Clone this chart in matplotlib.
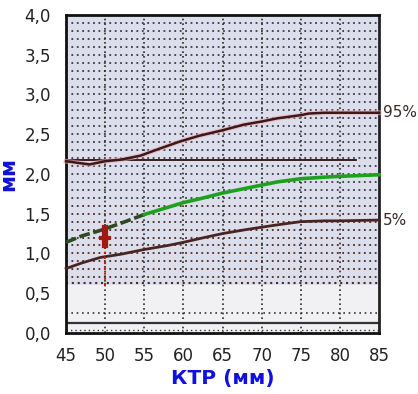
import matplotlib.pyplot as plt
import numpy as np

plt.rcParams['font.family'] = ['DejaVu Sans']

x_ticks = [45, 50, 55, 60, 65, 70, 75, 80, 85]
y_ticks = [0.0, 0.5, 1.0, 1.5, 2.0, 2.5, 3.0, 3.5, 4.0]
y_tick_labels = ["0,0", "0,5", "1,0", "1,5", "2,0", "2,5", "3,0", "3,5", "4,0"]

p95_x = [45, 48, 50, 52, 54.5, 57, 59.6, 62, 65, 67.7, 70, 72, 75, 76, 78, 80, 85]
p95_y = [2.16, 2.12, 2.16, 2.18, 2.23, 2.32, 2.41, 2.48, 2.55, 2.62, 2.66, 2.70, 2.74, 2.76, 2.77, 2.77, 2.77]

median_x = [45, 47, 49.4, 52, 55, 58, 60, 62.2, 65, 68, 70, 72, 75, 78, 80, 85]
median_y = [1.14, 1.22, 1.29, 1.38, 1.49, 1.58, 1.64, 1.69, 1.76, 1.82, 1.86, 1.90, 1.94, 1.96, 1.97, 1.99]

p5_x = [45, 47, 49.4, 52, 55, 58, 60, 62.2, 65, 68, 70, 72, 75, 78, 80, 85]
p5_y = [0.81, 0.88, 0.95, 0.99, 1.05, 1.10, 1.14, 1.19, 1.25, 1.30, 1.33, 1.36, 1.40, 1.41, 1.41, 1.42]

ref_line_y = 2.18
ref_line_x = [45, 82]
marker_x = 50
marker_y = [1.10, 1.32]
marker_span = [0.6, 1.35]

fig = plt.figure(figsize=(4.18, 3.94), dpi=100)
ax = fig.add_axes([0.158, 0.155, 0.749, 0.807])
ax.set_xlim(45, 85)
ax.set_ylim(0, 4.0)

# backgrounds
ax.axhspan(0.6, 4.0, color="#dcdfeb", zorder=0)
ax.axhspan(0.0, 0.6, color="#f1f1f3", zorder=0)

# horizontal dotted grid every 0.1
for yv in np.arange(0.7, 4.0, 0.1):
    col = "#4a2b25" if yv < 1.6 else "#3a3a48"
    ax.axhline(yv, color=col, lw=1.3, ls=(0, (1, 2.0)), zorder=1)
ax.axhline(0.63, color="#4a2b25", lw=1.5, ls=(0, (1, 1.8)), zorder=1)
ax.axhline(0.25, color="#333333", lw=1.2, ls=(0, (1, 2.2)), zorder=1)
ax.axhline(0.04, color="#333333", lw=1.0, ls=(0, (1, 2.2)), zorder=1)
ax.axhline(0.13, color="#333333", lw=1.6, zorder=2)

# vertical dotted lines
for xv in x_ticks[1:-1]:
    ax.axvline(xv, color="#2a2a2a", lw=1.2, ls=(0, (1, 1.8)), zorder=1)

# reference horizontal line
ax.plot(ref_line_x, [ref_line_y, ref_line_y], color="#3a1f1c", lw=1.4, zorder=3)

# 95% curve with pink glow
ax.plot(p95_x, p95_y, color="#f2a8b8", lw=3.5, alpha=0.6, zorder=3, clip_on=False)
ax.plot(p95_x, p95_y, color="#3a1a18", lw=1.8, zorder=4, clip_on=False)

# median
mx = np.array(median_x); my = np.array(median_y)
ax.plot(mx[mx <= 55], my[mx <= 55], color="#2f4a23", lw=2.6, ls=(0, (3, 1)), zorder=4, clip_on=False)
ax.plot(mx[mx >= 55], my[mx >= 55], color="#1ea21e", lw=2.6, zorder=4, clip_on=False)

# 5%
ax.plot(p5_x, p5_y, color="#4a2422", lw=2, zorder=4, clip_on=False)

# red marker
ax.plot([marker_x, marker_x], marker_span, color="#c0201a", lw=1.5, ls=(0, (1, 1.5)), zorder=5)
ax.plot([marker_x, marker_x], marker_y, color="#a01a14", lw=4.5, zorder=6)
ax.plot([marker_x - 0.5, marker_x + 0.5], [1.2, 1.2], color="#a01a14", lw=3, zorder=6)

ax.text(85.5, 2.77, "95%", fontsize=11, color="#3a2a2a", va="center", ha="left")
ax.text(85.5, 1.42, "5%", fontsize=11, color="#3a2a2a", va="center", ha="left")

ax.set_xticks(x_ticks)
ax.set_yticks(y_ticks)
ax.set_yticklabels(y_tick_labels)
ax.tick_params(axis="x", length=0, labelsize=12, colors="#222222", pad=10)
ax.set_xlabel("КТР (мм)", color="#1010e0", fontsize=14.5, fontweight="bold", labelpad=3)
ax.tick_params(axis="y", length=0, labelsize=12, colors="#222222", pad=11)
ax.set_ylabel("мм", color="#1010e0", fontsize=15, fontweight="bold", labelpad=4)

for s in ["left", "bottom", "top"]:
    ax.spines[s].set_linewidth(2)
    ax.spines[s].set_color("#111111")
ax.spines["right"].set_linewidth(2)
ax.spines["right"].set_color("#222222")

fig.savefig("out.png", dpi=100)
